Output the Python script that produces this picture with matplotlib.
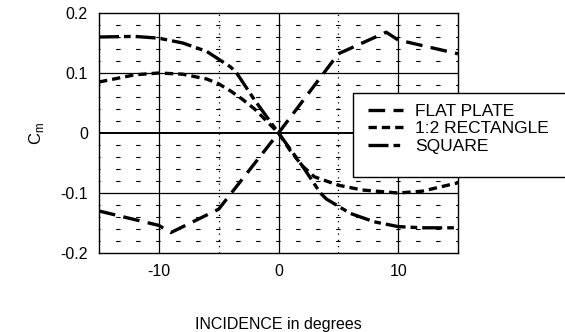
import numpy as np
import matplotlib
matplotlib.use("Agg")
import matplotlib.pyplot as plt
from matplotlib.patches import Rectangle

plt.rcParams['font.family'] = ['Liberation Sans', 'DejaVu Sans']

# data
flat_x = [-15, -10, -9, -5, 0, 5, 9, 10, 15]
flat_y = [-0.13, -0.154, -0.166, -0.127, 0.0, 0.132, 0.168, 0.155, 0.132]

rect_x = [-15, -12, -10, -8, -6, -5, -4, -3, -2, -1, 0, 1, 2, 3, 5, 7, 10, 12, 15]
rect_y = [0.085, 0.097, 0.1, 0.098, 0.09, 0.082, 0.07, 0.056, 0.04, 0.02, 0.0,
          -0.03, -0.055, -0.073, -0.087, -0.095, -0.1, -0.097, -0.083]

sq_x = [-15, -12, -10, -8, -6, -4, -3.5, -2, 0, 2, 3.5, 4, 6, 8, 10, 12, 15]
sq_y = [0.16, 0.161, 0.158, 0.15, 0.136, 0.11, 0.1, 0.055, 0.0, -0.055, -0.1,
        -0.11, -0.134, -0.148, -0.156, -0.158, -0.158]

labels = ["FLAT PLATE", "1:2 RECTANGLE", "SQUARE"]

fig = plt.figure(figsize=(5.65, 3.32), dpi=100)
ax = fig.add_axes([99 / 565, 1 - 253 / 332, 359 / 565, 240 / 332])

# grids
for v in [-10, 0, 10]:
    ax.axvline(v, color='black', lw=0.9, zorder=1)
for v in [-0.1, 0.1]:
    ax.axhline(v, color='black', lw=0.9, zorder=1)
ax.axhline(0, color='black', lw=1.4, zorder=1)
for v in np.arange(-0.18, 0.19, 0.02):
    if abs(round(v * 50) % 5) != 0:
        ax.axhline(v, color='black', lw=0.8, ls=(3, (4, 14)), zorder=1)
for v in [-5, 5]:
    ax.axvline(v, color='black', lw=0.9, ls=(0, (1, 4)), zorder=1)

kw = dict(color='black', lw=2.4, zorder=3)
l1, = ax.plot(flat_x, flat_y, ls=(0, (5, 2.5)), label=labels[0], **kw)
l2, = ax.plot(rect_x, rect_y, ls=(0, (2.5, 1.5)), label=labels[1], **kw)
l3, = ax.plot(sq_x, sq_y, ls=(0, (6, 1.5, 2, 1.5)), label=labels[2], **kw)

ax.set_xlim(-15, 15)
ax.set_ylim(-0.2, 0.2)
ax.set_xticks([-10, 0, 10])
ax.set_xticklabels(['-10', '0', '10'])
ax.set_yticks([-0.2, -0.1, 0, 0.1, 0.2])
ax.set_yticklabels(['-0.2', '-0.1', '0', '0.1', '0.2'])
ax.tick_params(length=0, labelsize=11.5, pad=8)
for s in ax.spines.values():
    s.set_linewidth(1.0)

ax.set_ylabel(r'C$_\mathregular{m}$', fontsize=12, labelpad=10)
ax.set_xlabel('INCIDENCE in degrees', fontsize=11.5, labelpad=27)

# legend box reaching past the right edge, as in the scan
fig.patches.append(Rectangle((353 / 565, 1 - 177 / 332), 0.5, 84 / 332,
                             transform=fig.transFigure, facecolor='white',
                             edgecolor='black', lw=1.0, zorder=4))
leg = fig.legend(handles=[l1, l2, l3], loc='upper left',
                 bbox_to_anchor=(368 / 565, 1 - 104 / 332),
                 fontsize=12.5, frameon=False, handlelength=2.0,
                 handletextpad=0.7, labelspacing=0.12, borderpad=0,
                 borderaxespad=0)
leg.set_zorder(5)

fig.savefig('out.png', dpi=100)
